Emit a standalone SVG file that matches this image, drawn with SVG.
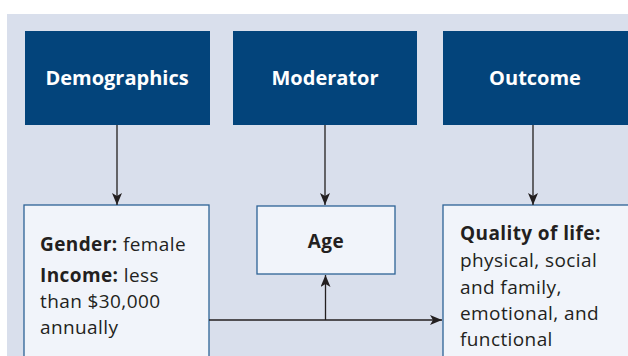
<svg xmlns="http://www.w3.org/2000/svg" width="628" height="356" viewBox="0 0 628 356">
<defs>
<marker id="ah" viewBox="0 0 12 10" refX="12" refY="5" markerWidth="12" markerHeight="10" markerUnits="userSpaceOnUse" orient="auto">
<path d="M0,0 L12,5 L0,10 L3,5 Z" fill="#231f20"/>
</marker>
</defs>
<style>
.hdr{fill:#03447b}
.hdrt{fill:#ffffff;font-family:"Open Sans",Lato,sans-serif;font-weight:bold;font-size:20px;text-anchor:middle}
.box{fill:#f1f4fa;stroke:#2d6396;stroke-width:1.3}
.t{fill:#231f20;font-family:"Open Sans",Lato,sans-serif;font-size:19px;letter-spacing:0.4px}
.b{font-weight:bold}
.ln{stroke:#231f20;stroke-width:1.3;fill:none}
</style>
<rect x="0" y="0" width="628" height="356" fill="#ffffff"/>
<rect x="7" y="14" width="621" height="342" fill="#d9dfec"/>
<g id="demographics">
<rect class="hdr" x="25" y="31" width="185" height="94"/>
<text class="hdrt" x="117" y="85">Demographics</text>
</g>
<g id="moderator">
<rect class="hdr" x="233" y="31" width="184" height="94"/>
<text class="hdrt" x="325" y="85">Moderator</text>
</g>
<g id="outcome">
<rect class="hdr" x="443" y="31" width="190" height="94"/>
<text class="hdrt" x="535" y="85">Outcome</text>
</g>
<g id="gender-income">
<rect class="box" x="24" y="205" width="185" height="160"/>
<text class="t" x="40" y="251"><tspan class="b">Gender:</tspan> female</text>
<text class="t" x="40" y="282"><tspan class="b">Income:</tspan> less</text>
<text class="t" x="40" y="308">than $30,000</text>
<text class="t" x="40" y="334">annually</text>
</g>
<g id="age">
<rect class="box" x="257" y="206" width="138" height="68"/>
<text class="t b" x="326" y="248" text-anchor="middle">Age</text>
</g>
<g id="quality">
<rect class="box" x="443" y="205" width="190" height="160"/>
<text class="t" x="460" y="240"><tspan class="b">Quality of life:</tspan></text>
<text class="t" x="460" y="267">physical, social</text>
<text class="t" x="460" y="294">and family,</text>
<text class="t" x="460" y="320">emotional, and</text>
<text class="t" x="460" y="346">functional</text>
</g>
<g id="connectors">
<line class="ln" x1="117" y1="125" x2="117" y2="205" marker-end="url(#ah)"/>
<line class="ln" x1="325" y1="125" x2="325" y2="205" marker-end="url(#ah)"/>
<line class="ln" x1="533" y1="125" x2="533" y2="205" marker-end="url(#ah)"/>
<line class="ln" x1="209" y1="320" x2="442" y2="320" marker-end="url(#ah)"/>
<line class="ln" x1="325.5" y1="320" x2="325.5" y2="275" marker-end="url(#ah)"/>
</g>
</svg>
